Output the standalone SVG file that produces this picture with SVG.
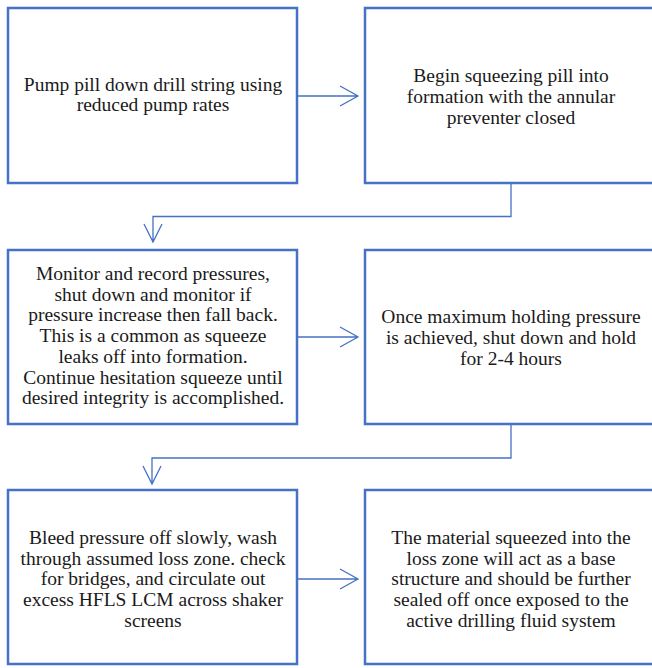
<svg xmlns="http://www.w3.org/2000/svg" width="652" height="668" viewBox="0 0 652 668">
<style>
.box{fill:#fff;stroke:#4472C4;stroke-width:2.5}
.t{font-family:'Liberation Serif','Times New Roman',serif;font-size:19.5px;fill:#1a1a1a;text-anchor:middle}
.c{fill:none;stroke:#4472C4;stroke-width:1.3}
</style>
<rect width="652" height="668" fill="#fff"/>
<g id="n1"><rect class="box" x="8" y="8" width="289" height="175"/>
<text class="t"><tspan x="153" y="91">Pump pill down drill string using</tspan><tspan x="153" y="111">reduced pump rates</tspan></text></g>
<g id="n2"><rect class="box" x="365" y="8" width="292" height="175"/>
<text class="t"><tspan x="511" y="82">Begin squeezing pill into</tspan><tspan x="511" y="103">formation with the annular</tspan><tspan x="511" y="124">preventer closed</tspan></text></g>
<g id="n3"><rect class="box" x="8" y="250" width="289" height="174"/>
<text class="t"><tspan x="153" y="280">Monitor and record pressures,</tspan><tspan x="153" y="300.7">shut down and monitor if</tspan><tspan x="153" y="321.4">pressure increase then fall back.</tspan><tspan x="153" y="342.1">This is a common as squeeze</tspan><tspan x="153" y="362.8">leaks off into formation.</tspan><tspan x="153" y="383.5">Continue hesitation squeeze until</tspan><tspan x="153" y="404.2">desired integrity is accomplished.</tspan></text></g>
<g id="n4"><rect class="box" x="365" y="250" width="292" height="174"/>
<text class="t"><tspan x="511" y="323">Once maximum holding pressure</tspan><tspan x="511" y="344">is achieved, shut down and hold</tspan><tspan x="511" y="365">for 2-4 hours</tspan></text></g>
<g id="n5"><rect class="box" x="8" y="490" width="289" height="174"/>
<text class="t"><tspan x="153" y="544">Bleed pressure off slowly, wash</tspan><tspan x="153" y="564.7">through assumed loss zone. check</tspan><tspan x="153" y="585.4">for bridges, and circulate out</tspan><tspan x="153" y="606.1">excess HFLS LCM across shaker</tspan><tspan x="153" y="626.8">screens</tspan></text></g>
<g id="n6"><rect class="box" x="365" y="490" width="292" height="174"/>
<text class="t"><tspan x="511" y="544">The material squeezed into the</tspan><tspan x="511" y="564.7">loss zone will act as a base</tspan><tspan x="511" y="585.4">structure and should be further</tspan><tspan x="511" y="606.1">sealed off once exposed to the</tspan><tspan x="511" y="626.8">active drilling fluid system</tspan></text></g>
<g id="connectors">
<path class="c" d="M298,96 H358 M340,86 L358,96 L340,106"/>
<path class="c" d="M511,184 V216.5 H153 V242 M144,224 L153,242 L162,224"/>
<path class="c" d="M298,337 H358 M340,327 L358,337 L340,347"/>
<path class="c" d="M511,425 V458 H152 V484 M143,466 L152,484 L161,466"/>
<path class="c" d="M298,579 H358 M340,569 L358,579 L340,589"/>
</g>
</svg>
